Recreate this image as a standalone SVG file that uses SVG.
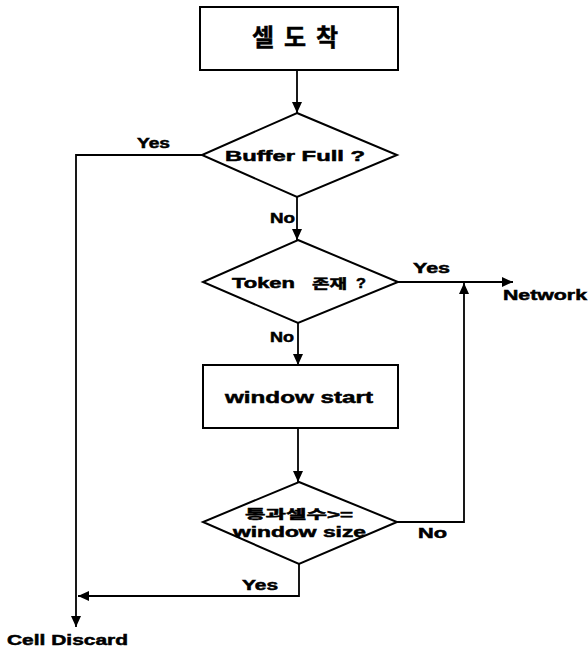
<svg xmlns="http://www.w3.org/2000/svg" width="588" height="651" viewBox="0 0 588 651">
<defs>
<marker id="arr" markerUnits="userSpaceOnUse" markerWidth="12" markerHeight="12" viewBox="0 0 12 12" refX="11" refY="6" orient="auto">
<path d="M0,1 L11,6 L0,11 Z" fill="#000"/>
</marker>
</defs>
<style>
.shape{fill:#fff;stroke:#000;stroke-width:2}
.ln{fill:none;stroke:#000;stroke-width:1.8}
.t{font-family:"Liberation Sans","Noto Sans CJK KR",sans-serif;font-weight:bold;fill:#000;stroke:#000;stroke-width:0.5}
</style>
<rect width="588" height="651" fill="#fff"/>
<g id="connectors">
<path class="ln" d="M297,70 L297,113" marker-end="url(#arr)"/>
<path class="ln" d="M297,197 L297,240" marker-end="url(#arr)"/>
<path class="ln" d="M298,323 L298,365" marker-end="url(#arr)"/>
<path class="ln" d="M298,428 L298,482" marker-end="url(#arr)"/>
<path class="ln" d="M202,155 L76,155 L76,627" marker-end="url(#arr)"/>
<path class="ln" d="M398,282 L513,282" marker-end="url(#arr)"/>
<path class="ln" d="M397,522 L464,522 L464,283" marker-end="url(#arr)"/>
<path class="ln" d="M299,564 L299,596 L78,596" marker-end="url(#arr)"/>
<text class="t" x="137" y="148" font-size="14" textLength="33" lengthAdjust="spacingAndGlyphs">Yes</text>
<text class="t" x="270" y="223" font-size="14" textLength="25" lengthAdjust="spacingAndGlyphs">No</text>
<text class="t" x="413" y="273" font-size="14" textLength="37" lengthAdjust="spacingAndGlyphs">Yes</text>
<text class="t" x="270" y="342" font-size="14" textLength="24" lengthAdjust="spacingAndGlyphs">No</text>
<text class="t" x="418" y="538" font-size="14" textLength="29" lengthAdjust="spacingAndGlyphs">No</text>
<text class="t" x="242" y="590" font-size="14" textLength="36" lengthAdjust="spacingAndGlyphs">Yes</text>
</g>
<g id="n_arrive">
<rect class="shape" x="200" y="7" width="198" height="63"/>
<text class="t" x="252" y="46" font-size="24" textLength="86" lengthAdjust="spacing">셀도착</text>
</g>
<g id="n_buffer">
<polygon class="shape" points="297,113 397,155 297,197 202,155"/>
<text class="t" x="225" y="161" font-size="15" textLength="140" lengthAdjust="spacingAndGlyphs">Buffer Full ?</text>
</g>
<g id="n_token">
<polygon class="shape" points="298,240 398,282 298,323 203,282"/>
<text class="t" x="232" y="288" font-size="14" textLength="63" lengthAdjust="spacingAndGlyphs">Token</text>
<text class="t" x="312" y="288" font-size="13" textLength="35" lengthAdjust="spacingAndGlyphs">존재</text>
<text class="t" x="356" y="288" font-size="15" textLength="10" lengthAdjust="spacingAndGlyphs">?</text>
</g>
<g id="n_window">
<rect class="shape" x="203" y="365" width="195" height="63"/>
<text class="t" x="225" y="403" font-size="17" textLength="148" lengthAdjust="spacingAndGlyphs">window start</text>
</g>
<g id="n_count">
<polygon class="shape" points="299,482 397,522 299,564 203,522"/>
<text class="t" x="245" y="519" font-size="12" textLength="108" lengthAdjust="spacingAndGlyphs">통과셀수&gt;=</text>
<text class="t" x="233" y="537" font-size="14" textLength="133" lengthAdjust="spacingAndGlyphs">window size</text>
</g>
<g id="n_network">
<text class="t" x="503" y="300" font-size="15" textLength="84" lengthAdjust="spacingAndGlyphs">Network</text>
</g>
<g id="n_discard">
<text class="t" x="7" y="645" font-size="15" textLength="121" lengthAdjust="spacingAndGlyphs">Cell Discard</text>
</g>
</svg>
